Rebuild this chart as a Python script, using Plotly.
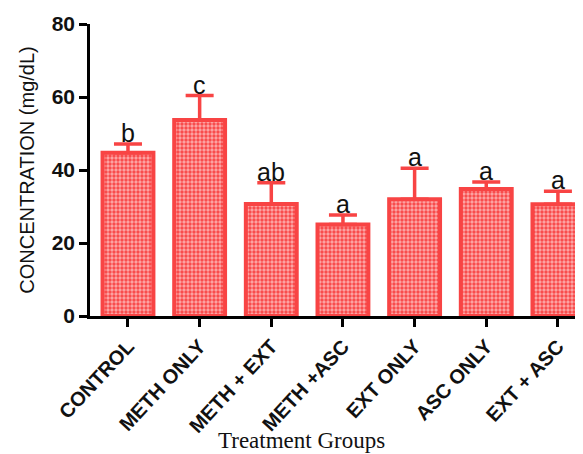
import plotly.graph_objects as go

groups = ["CONTROL", "METH ONLY", "METH + EXT", "METH +ASC", "EXT ONLY", "ASC ONLY", "EXT + ASC"]
means = [44.7, 53.7, 30.7, 25.1, 32.0, 34.8, 30.6]
errors = [2.4, 6.7, 5.8, 2.6, 8.5, 1.9, 3.6]
letters = ["b", "c", "ab", "a", "a", "a", "a"]

RED = "#f84444"

fig = go.Figure()
fig.add_trace(go.Bar(
    x=list(range(len(groups))),
    y=means,
    width=0.71,
    marker=dict(
        color=RED,
        line=dict(color=RED, width=4),
        pattern=dict(shape=".", fgcolor="white", bgcolor=RED, size=4, solidity=0.55, fillmode="overlay"),
    ),
    error_y=dict(type="data", array=errors, arrayminus=[0] * len(errors), symmetric=False,
                 color=RED, thickness=3.5, width=14),
    showlegend=False,
))

annotations = []
for i, (m, e, t) in enumerate(zip(means, errors, letters)):
    annotations.append(dict(x=i, y=m + e, text=t, showarrow=False, xref="x", yref="y",
                            yanchor="bottom", yshift=-5,
                            font=dict(family="Liberation Sans, Arial", size=25, color="#111")))
annotations.append(dict(x=0.43, y=-0.425, xref="paper", yref="paper", xanchor="center", yanchor="middle",
                        text="Treatment Groups", showarrow=False,
                        font=dict(family="Liberation Serif, Times New Roman", size=23, color="#111")))

fig.update_layout(
    width=575, height=446,
    margin=dict(l=82, r=0, t=16, b=138, pad=0),
    plot_bgcolor="white", paper_bgcolor="white",
    annotations=annotations,
)
fig.update_xaxes(
    range=[-0.53, 6.35],
    tickmode="array", tickvals=list(range(len(groups))), ticktext=[f"<b>{g}</b>" for g in groups],
    tickangle=-47,
    tickfont=dict(family="Liberation Sans, Arial", size=20, color="#111"),
    showline=True, linecolor="black", linewidth=2.5,
    ticks="outside", ticklen=8, tickwidth=2.5, tickcolor="black",
    showgrid=False, zeroline=False,
)
fig.update_yaxes(
    range=[0, 80],
    tickvals=[0, 20, 40, 60, 80],
    ticktext=["<b>0</b>", "<b>20</b>", "<b>40</b>", "<b>60</b>", "<b>80</b>"],
    tickfont=dict(family="Liberation Sans, Arial", size=21, color="#111"),
    showline=True, linecolor="black", linewidth=2.5,
    ticks="outside", ticklen=8, tickwidth=2.5, tickcolor="black",
    showgrid=False, zeroline=False,
    title=dict(text="CONCENTRATION (mg/dL)", standoff=12,
               font=dict(family="Liberation Sans, Arial", size=20, color="#111")),
)

fig.write_html("out.html")
